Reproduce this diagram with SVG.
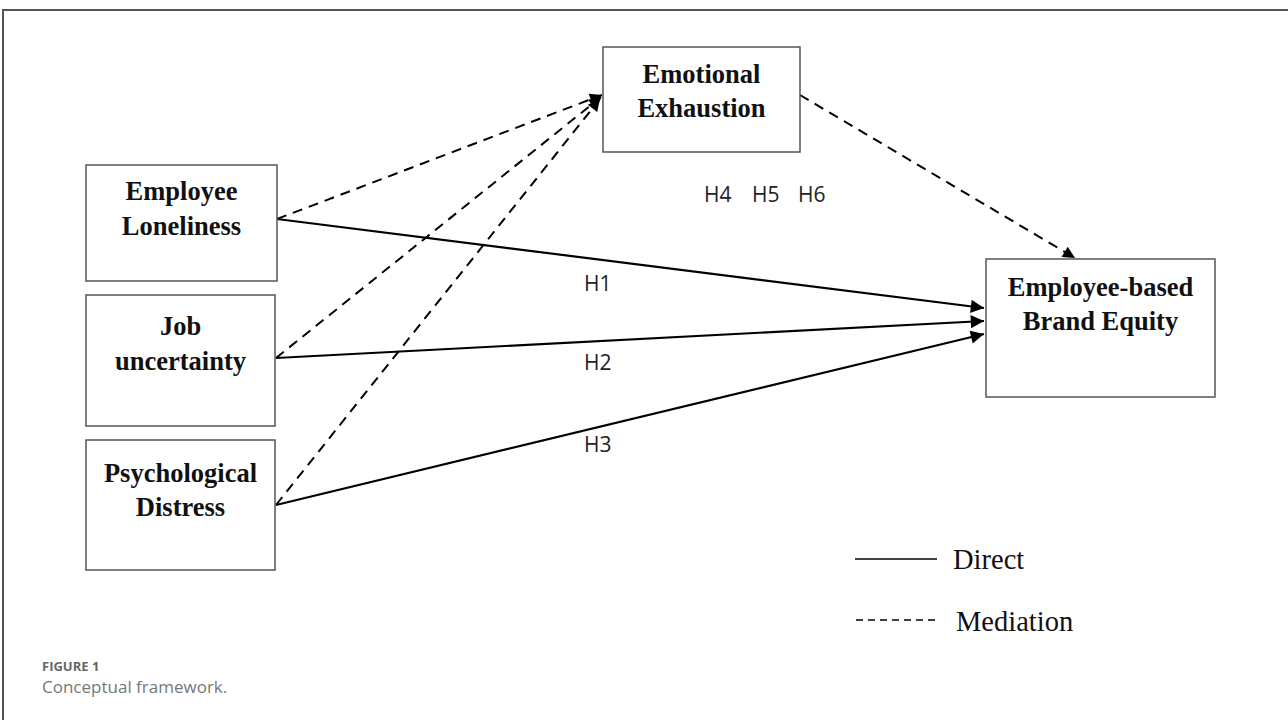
<svg xmlns="http://www.w3.org/2000/svg" width="1288" height="720" viewBox="0 0 1288 720">
<style>
.box{fill:#fff;stroke:#555;stroke-width:1.5}
.lbl{font-family:"Liberation Serif",serif;font-weight:bold;font-size:26.5px;fill:#111;text-anchor:middle}
.h{font-family:"Open Sans",sans-serif;font-size:21px;fill:#222}
.solid{stroke:#000;stroke-width:2.2;fill:none}
.dash{stroke:#000;stroke-width:2;fill:none;stroke-dasharray:10 7}
.leg{font-family:"Liberation Serif",serif;font-size:28.5px;fill:#111}
</style>
<defs>
<marker id="ah" viewBox="0 0 10 10" refX="10" refY="5" markerWidth="7" markerHeight="6" markerUnits="strokeWidth" orient="auto">
<path d="M0,0 L10,5 L0,10 z" fill="#000"/>
</marker>
</defs>
<rect width="1288" height="720" fill="#fff"/>
<path d="M3,720 V10 H1288" fill="none" stroke="#555" stroke-width="2"/>
<g id="connectors">
<line class="dash" x1="277" y1="219" x2="602" y2="95" marker-end="url(#ah)"/>
<line class="dash" x1="276" y1="358" x2="601" y2="97" marker-end="url(#ah)"/>
<line class="dash" x1="276" y1="505" x2="600" y2="99" marker-end="url(#ah)"/>
<line class="dash" x1="800" y1="95" x2="1075" y2="258" marker-end="url(#ah)"/>
<line class="solid" x1="277" y1="219" x2="984" y2="308" marker-end="url(#ah)"/>
<line class="solid" x1="276" y1="358" x2="984" y2="321" marker-end="url(#ah)"/>
<line class="solid" x1="276" y1="505" x2="984" y2="334" marker-end="url(#ah)"/>
</g>
<g id="employee-loneliness">
<rect class="box" x="86" y="165" width="191" height="116"/>
<text class="lbl" x="181.5" y="200">Employee</text>
<text class="lbl" x="181.5" y="235">Loneliness</text>
</g>
<g id="job-uncertainty">
<rect class="box" x="86" y="295" width="189" height="131"/>
<text class="lbl" x="180.5" y="335">Job</text>
<text class="lbl" x="180.5" y="370">uncertainty</text>
</g>
<g id="psychological-distress">
<rect class="box" x="86" y="440" width="189" height="130"/>
<text class="lbl" x="180.5" y="482">Psychological</text>
<text class="lbl" x="180.5" y="516">Distress</text>
</g>
<g id="emotional-exhaustion">
<rect class="box" x="603" y="47" width="197" height="105"/>
<text class="lbl" x="701.5" y="83">Emotional</text>
<text class="lbl" x="701.5" y="117">Exhaustion</text>
</g>
<g id="employee-based-brand-equity">
<rect class="box" x="986" y="259" width="229" height="138"/>
<text class="lbl" x="1100.5" y="296">Employee-based</text>
<text class="lbl" x="1100.5" y="330">Brand Equity</text>
</g>
<g id="labels">
<text class="h" x="704" y="202">H4</text>
<text class="h" x="752" y="202">H5</text>
<text class="h" x="798" y="202">H6</text>
<text class="h" x="584" y="291">H1</text>
<text class="h" x="584" y="370">H2</text>
<text class="h" x="584" y="452">H3</text>
</g>
<g id="legend">
<line x1="855" y1="559" x2="937" y2="559" stroke="#000" stroke-width="1.5"/>
<text class="leg" x="953" y="569">Direct</text>
<line x1="856" y1="620" x2="936" y2="620" stroke="#000" stroke-width="1.5" stroke-dasharray="7 5"/>
<text class="leg" x="956" y="631">Mediation</text>
</g>
<g id="caption">
<text x="42" y="671" font-family="'Open Sans',sans-serif" font-weight="bold" font-size="13px" fill="#666">FIGURE 1</text>
<text x="42" y="693" font-family="'Open Sans',sans-serif" font-size="17px" fill="#777">Conceptual framework.</text>
</g>
</svg>
